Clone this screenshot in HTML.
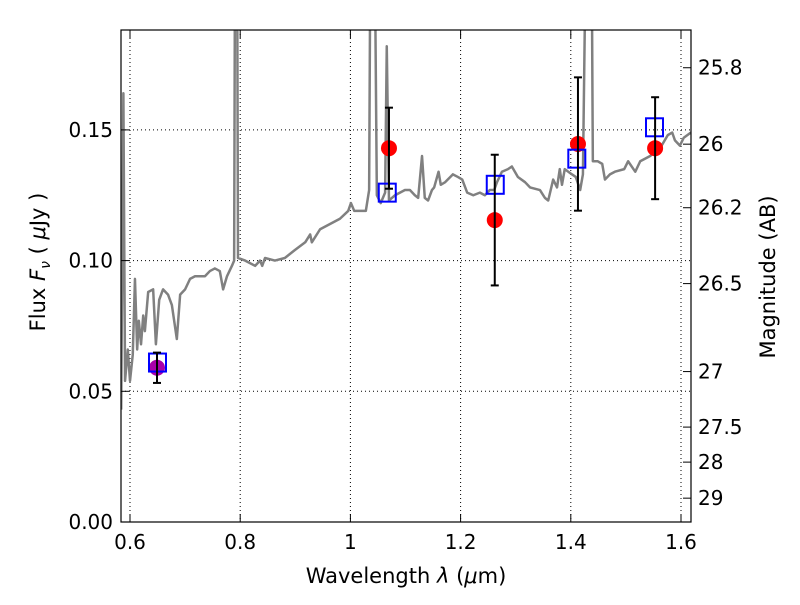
<!DOCTYPE html>
<html><head><meta charset="utf-8"><style>
body{margin:0;background:#fff;width:800px;height:600px;overflow:hidden}
text{font-family:"DejaVu Sans","Liberation Sans",sans-serif;fill:#000}
</style></head><body>
<svg id="chart" width="800" height="600" xmlns="http://www.w3.org/2000/svg">
<defs><clipPath id="pc"><rect x="121" y="30" width="570" height="492"/></clipPath></defs>
<g id="grid"></g>
<g id="spec" clip-path="url(#pc)"></g>
<g id="marks" clip-path="url(#pc)"></g>
<rect x="121" y="30" width="570" height="492" fill="none" stroke="#000" stroke-width="1.2"/>
<g id="axes"></g>
<text x="406" y="583" font-size="21" text-anchor="middle">Wavelength  <tspan font-style="italic">λ</tspan> (<tspan font-style="italic">μ</tspan>m)</text>
<text transform="translate(45,262) rotate(-90)" font-size="21" text-anchor="middle">Flux  <tspan font-style="italic">F</tspan><tspan font-style="italic" font-size="14" dy="5">ν</tspan><tspan dy="-5">  (  <tspan font-style="italic">μ</tspan>Jy )</tspan></text>
<text transform="translate(775,277) rotate(-90)" font-size="21" text-anchor="middle">Magnitude (AB)</text>
</svg>
<script>
const specLam=[0.584,0.588,0.591,0.596,0.600,0.605,0.609,0.613,0.616,0.620,0.624,0.627,0.633,0.642,0.647,0.653,0.660,0.669,0.676,0.685,0.691,0.700,0.709,0.718,0.736,0.745,0.754,0.763,0.769,0.776,0.785,0.789,0.791,0.794,0.796,0.809,0.827,0.836,0.840,0.845,0.863,0.881,0.899,0.918,0.927,0.930,0.945,0.963,0.981,0.996,1.001,1.007,1.028,1.034,1.037,1.043,1.048,1.055,1.063,1.066,1.070,1.081,1.099,1.108,1.117,1.123,1.130,1.135,1.141,1.148,1.152,1.160,1.164,1.172,1.186,1.195,1.203,1.212,1.223,1.235,1.244,1.253,1.261,1.266,1.275,1.286,1.293,1.304,1.317,1.326,1.344,1.353,1.359,1.368,1.375,1.380,1.384,1.389,1.402,1.409,1.417,1.422,1.429,1.437,1.440,1.449,1.457,1.462,1.471,1.480,1.497,1.504,1.517,1.526,1.544,1.562,1.576,1.584,1.589,1.598,1.605,1.618];
const specFlux=[0.043,0.164,0.054,0.066,0.054,0.064,0.093,0.066,0.077,0.068,0.079,0.073,0.088,0.089,0.068,0.085,0.089,0.087,0.083,0.070,0.087,0.089,0.093,0.094,0.094,0.096,0.097,0.096,0.089,0.094,0.098,0.100,0.25,0.25,0.101,0.100,0.098,0.100,0.098,0.101,0.100,0.101,0.104,0.107,0.110,0.107,0.112,0.114,0.116,0.119,0.122,0.119,0.119,0.127,0.25,0.25,0.125,0.122,0.126,0.182,0.123,0.125,0.127,0.127,0.125,0.124,0.140,0.124,0.123,0.127,0.128,0.134,0.129,0.130,0.133,0.132,0.131,0.126,0.125,0.126,0.125,0.127,0.127,0.130,0.134,0.135,0.136,0.132,0.130,0.128,0.127,0.124,0.123,0.131,0.128,0.135,0.129,0.135,0.133,0.132,0.127,0.133,0.25,0.25,0.138,0.138,0.137,0.131,0.133,0.134,0.135,0.138,0.134,0.138,0.140,0.143,0.148,0.149,0.146,0.144,0.147,0.149];
const obsLam=[0.649,1.070,1.262,1.413,1.553];
const obsFlux=[0.059,0.143,0.1155,0.1446,0.143];
const obsErr=[0.0058,0.0155,0.025,0.0255,0.0195];
const obsColor=['#aa00aa','#ff0000','#ff0000','#ff0000','#ff0000'];
const modelLam=[0.649,1.066,1.262,1.410,1.551];
const modelFlux=[0.061,0.126,0.129,0.139,0.151];
const xTicks=[0.6,0.8,1.0,1.2,1.4,1.6];
const xTickLabels=['0.6','0.8','1','1.2','1.4','1.6'];
const yTicks=[0,0.05,0.10,0.15];
const yTickLabels=['0.00','0.05','0.10','0.15'];
const magTicks=[25.8,26,26.2,26.5,27,27.5,28,29];
const magTickLabels=['25.8','26','26.2','26.5','27','27.5','28','29'];

const X=l=>130+(l-0.6)*551;
const Y=f=>522-f*2614;
const NS='http://www.w3.org/2000/svg';
function mk(tag,attrs,parent){const e=document.createElementNS(NS,tag);for(const k in attrs)e.setAttribute(k,attrs[k]);parent.appendChild(e);return e;}
const grid=document.getElementById('grid'),axes=document.getElementById('axes');
xTicks.forEach((t,i)=>{const x=X(t);
 const g=mk('line',{x1:x,x2:x,y1:30,y2:522,stroke:'#000','stroke-width':1,'stroke-dasharray':'1,3'},grid);
 
 
 mk('line',{x1:x,x2:x,y1:522,y2:514,stroke:'#000'},axes);
 mk('line',{x1:x,x2:x,y1:30,y2:38,stroke:'#000'},axes);
 const tx=mk('text',{x:x,y:549,'font-size':20,'text-anchor':'middle'},axes);tx.textContent=xTickLabels[i];
 
 
});
yTicks.forEach((t,i)=>{const y=Y(t);
 const g=mk('line',{x1:121,x2:691,y1:y,y2:y,stroke:'#000','stroke-width':1,'stroke-dasharray':'1,3'},grid);
 
 
 mk('line',{x1:121,x2:129,y1:y,y2:y,stroke:'#000'},axes);
 const tx=mk('text',{x:113,y:y+7,'font-size':20,'text-anchor':'end'},axes);tx.textContent=yTickLabels[i];
 
 
});
magTicks.forEach((m,i)=>{const y=Y(Math.pow(10,(23.9-m)/2.5));
 mk('line',{x1:683,x2:691,y1:y,y2:y,stroke:'#000'},axes);
 const tx=mk('text',{x:698,y:y+7,'font-size':20},axes);tx.textContent=magTickLabels[i];
 
 
});
const spec=document.getElementById('spec');
const p=mk('polyline',{points:specLam.map((l,i)=>X(l)+','+Y(specFlux[i])).join(' '),fill:'none',stroke:'#808080','stroke-width':2.5,'stroke-linejoin':'round'},spec);


const marks=document.getElementById('marks');
obsLam.forEach((l,i)=>{const x=X(l),y=Y(obsFlux[i]);
 const c=mk('circle',{cx:x,cy:y,r:8,fill:obsColor[i]},marks);
 
 
});
modelLam.forEach((l,i)=>{const x=X(l),y=Y(modelFlux[i]);
 const r=mk('rect',{x:x-8,y:y-9,width:17,height:18,fill:'none',stroke:'#0000ff','stroke-width':2},marks);
 
 
});
obsLam.forEach((l,i)=>{const x=X(l),y1=Y(obsFlux[i]+obsErr[i]),y2=Y(obsFlux[i]-obsErr[i]);
 const g=mk('g',{stroke:'#000','stroke-width':2},marks);
 
 
 mk('line',{x1:x,x2:x,y1:y1,y2:y2},g);
 mk('line',{x1:x-4,x2:x+4,y1:y1,y2:y1},g);
 mk('line',{x1:x-4,x2:x+4,y1:y2,y2:y2},g);
});
</script>
</body></html>
